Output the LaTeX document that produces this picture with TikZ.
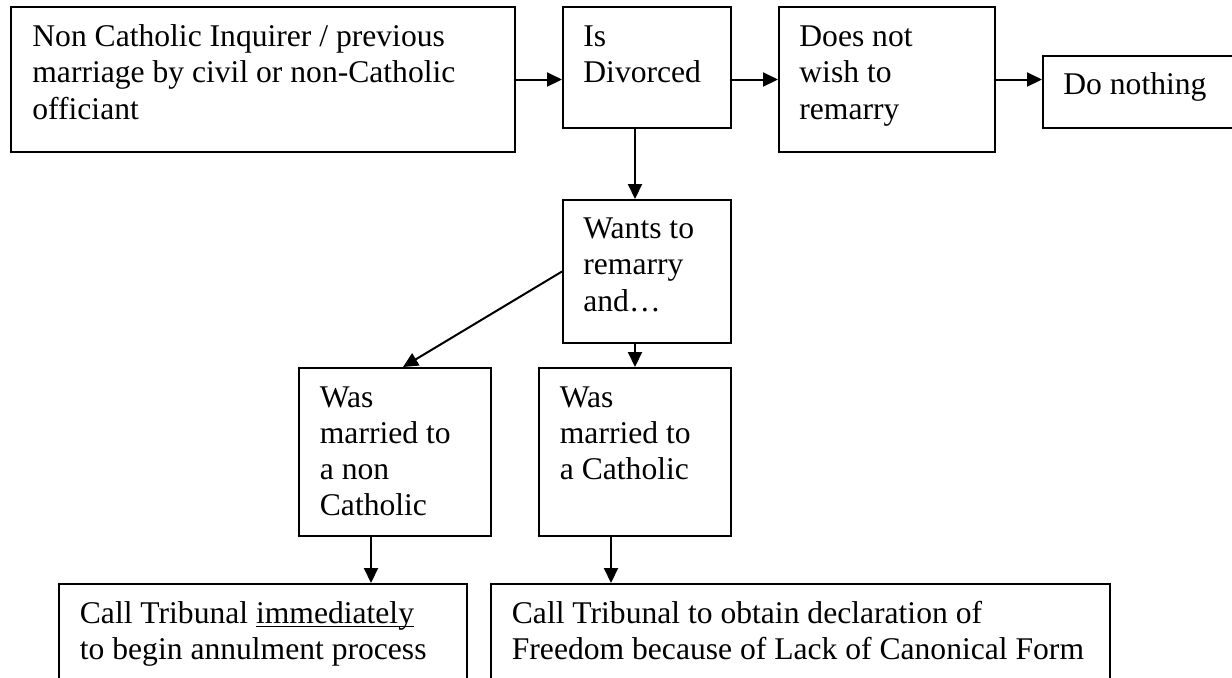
\documentclass[tikz,border=0pt]{standalone}
\usepackage{fontspec}
\setmainfont{Liberation Serif}
\usetikzlibrary{arrows.meta,fit,calc}
\newcommand\mylines[1]{\begin{tabular}[t]{@{}l@{}}#1\end{tabular}}
\newcommand\myul[1]{\setbox0\hbox{#1}\rlap{\rule[-2.1pt]{\wd0}{0.7pt}}\box0}
\begin{document}
\begin{tikzpicture}[x=0.5pt,y=-0.5pt,
  box/.style={draw, line width=1pt, inner sep=0pt, rectangle},
  txt/.style={anchor=base west, inner sep=0pt, font=\fontsize{15.8pt}{18.15pt}\selectfont},
  arr/.style={line width=1pt, -{Triangle[length=7.5pt,width=7pt]}}]
\useasboundingbox (0,0) rectangle (1232,677);
\clip (0,0) rectangle (1232,677);
% boxes
\node[box, fit={(11,7)(515,152)}] (b1) {};
\node[box, fit={(563,7)(731,128)}] (b2) {};
\node[box, fit={(779,7)(995,152)}] (b3) {};
\node[box, fit={(1043,56)(1245,128)}] (b4) {};
\node[box, fit={(563,200)(731,343)}] (b5) {};
\node[box, fit={(299,368)(491,536)}] (b6) {};
\node[box, fit={(539,368)(731,536)}] (b7) {};
\node[box, fit={(59,584)(467,700)}] (b8) {};
\node[box, fit={(491,584)(1110,700)}] (b9) {};
% texts
\node[txt] (t1) at (32,46.5) {\mylines{Non Catholic Inquirer / previous\\marriage by civil or non-Catholic\\officiant}};
\node[txt] (t2) at (583,46.5) {\mylines{Is\\Divorced}};
\node[txt] (t3) at (799,46.5) {\mylines{Does not\\wish to\\remarry}};
\node[txt] (t4) at (1063,94.5) {Do nothing};
\node[txt] (t5) at (583,238.5) {\mylines{Wants to\\remarry\\and\ldots}};
\node[txt] (t6) at (319.5,407) {\mylines{Was\\married to\\a non\\Catholic}};
\node[txt] (t7) at (559.5,407) {\mylines{Was\\married to\\a Catholic}};
\node[txt] (t8) at (79.5,623) {\mylines{Call Tribunal \myul{immediately}\\to begin annulment process}};
\node[txt] (t9) at (511.5,623) {\mylines{Call Tribunal to obtain declaration of\\Freedom because of Lack of Canonical Form}};
% connectors
\draw[arr] (b1.east) -- (b1.east -| b2.west);
\draw[arr] (b3.west -| b2.east) -- (b3.west);
\draw[arr] (b3.east) -- (b3.east -| b4.west);
\draw[arr] ([xshift=-6pt]b2.south) -- ([xshift=-6pt]b5.north);
\draw[arr] (b7.north |- b5.south) -- (b7.north);
\draw[arr] (b5.west) -- ([xshift=4pt]b6.north);
\draw[arr] ([xshift=-12pt]b6.south) -- ([xshift=-12pt]b6.south |- b8.north);
\draw[arr] ([xshift=-12pt]b7.south) -- ([xshift=-12pt]b7.south |- b9.north);
\end{tikzpicture}
\end{document}
